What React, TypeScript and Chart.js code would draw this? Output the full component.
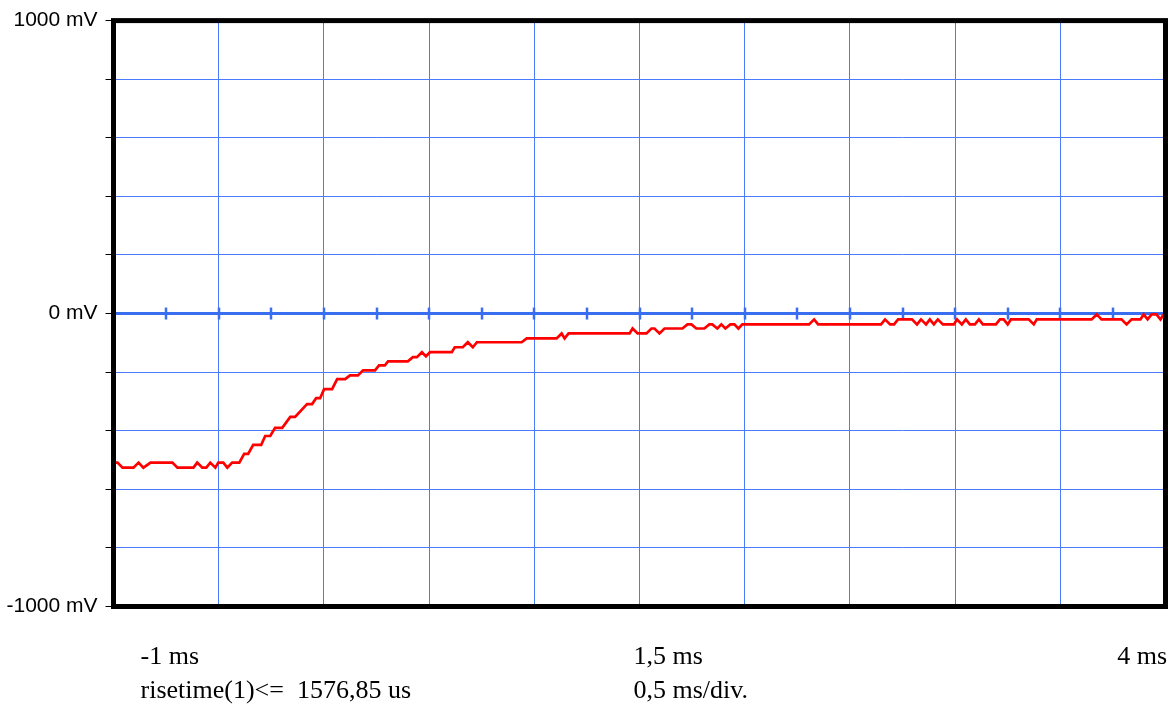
import { useEffect, useRef } from 'react';
import { Chart, registerables } from 'chart.js';

Chart.register(...registerables);

const timeMs = [
  -1.0, -0.981, -0.957, -0.905, -0.881, -0.858, -0.824, -0.72, -0.696, -0.62,
  -0.602, -0.578, -0.559, -0.54, -0.516, -0.502, -0.478, -0.459, -0.436, -0.402,
  -0.379, -0.36, -0.336, -0.298, -0.279, -0.255, -0.232, -0.198, -0.16, -0.137,
  -0.08, -0.056, -0.037, -0.018, 0.001, 0.039, 0.063, 0.101, 0.124, 0.162,
  0.186, 0.243, 0.262, 0.29, 0.305, 0.399, 0.423, 0.442, 0.466, 0.485,
  0.504, 0.608, 0.622, 0.66, 0.684, 0.708, 0.727, 0.94, 0.964, 1.106,
  1.13, 1.144, 1.163, 1.453, 1.467, 1.491, 1.533, 1.557, 1.571, 1.595,
  1.619, 1.704, 1.728, 1.747, 1.77, 1.808, 1.832, 1.846, 1.87, 1.889,
  1.908, 1.932, 1.951, 1.97, 1.989, 2.306, 2.33, 2.349, 2.648, 2.667,
  2.691, 2.71, 2.729, 2.795, 2.819, 2.838, 2.862, 2.88, 2.899, 2.918,
  2.942, 2.994, 3.009, 3.032, 3.051, 3.07, 3.094, 3.113, 3.132, 3.194,
  3.213, 3.231, 3.25, 3.265, 3.35, 3.374, 3.388, 3.649, 3.673, 3.696,
  3.791, 3.815, 3.839, 3.881, 3.896, 3.915, 3.934, 3.957, 3.976, 3.991,
];

const voltageMv = [
  -509, -509, -526, -526, -509, -526, -509, -509, -526, -526,
  -509, -526, -526, -509, -526, -509, -509, -526, -509, -509,
  -479, -479, -448, -448, -418, -418, -390, -390, -353, -353,
  -309, -309, -289, -289, -258, -258, -224, -224, -211, -211,
  -194, -194, -177, -177, -163, -163, -149, -149, -132, -146,
  -132, -132, -115, -115, -98, -115, -98, -98, -85, -85,
  -68, -85, -68, -68, -51, -68, -68, -51, -51, -68,
  -51, -51, -37, -37, -51, -51, -37, -37, -51, -37,
  -51, -37, -37, -51, -37, -37, -20, -37, -37, -20,
  -37, -37, -20, -20, -37, -20, -37, -20, -37, -20,
  -37, -37, -20, -37, -20, -37, -37, -20, -37, -37,
  -20, -20, -37, -20, -20, -37, -20, -20, -3, -20,
  -20, -37, -20, -20, -3, -20, -3, -3, -20, -3,
];

// Axis settings
const xRangeMs = [-1, 4];
const xDivisionMs = 0.5;
const zeroLineTickMs = 0.25;
const yRangeMv = [-1000, 1000];
const yDivisionMv = 200;
const yLabeledTicks = [-1000, 0, 1000];

// Footer annotations
const footerTopLine = ['-1 ms', '1,5 ms', '4 ms'];
const footerBottomLine = ['risetime(1)<=  1576,85 us', '0,5 ms/div.'];

const GRID_BLUE = '#4a7bff';
const ZERO_BLUE = '#3a6ef0';
const TRACE_RED = '#ff0000';
const SERIF = "'Liberation Serif', 'Times New Roman', serif";
const SANS = "'Liberation Sans', Arial, sans-serif";

const scopeDecor = {
  id: 'scopeDecor',
  beforeDatasetsDraw(chart: any) {
    const { ctx, chartArea, scales } = chart;
    const x = scales.x;
    const y = scales.y;
    const y0 = y.getPixelForValue(0);
    ctx.save();
    ctx.strokeStyle = ZERO_BLUE;
    ctx.lineWidth = 3;
    ctx.beginPath();
    ctx.moveTo(chartArea.left, y0);
    ctx.lineTo(chartArea.right, y0);
    ctx.stroke();
    ctx.lineWidth = 2.5;
    const n = Math.round((xRangeMs[1] - xRangeMs[0]) / zeroLineTickMs);
    for (let i = 0; i <= n; i++) {
      const px = Math.round(x.getPixelForValue(xRangeMs[0] + i * zeroLineTickMs));
      ctx.beginPath();
      ctx.moveTo(px, y0 - 6);
      ctx.lineTo(px, y0 + 6);
      ctx.stroke();
    }
    ctx.restore();
  },
  afterDraw(chart: any) {
    const { ctx, chartArea } = chart;
    const { left, top, right, bottom } = chartArea;
    ctx.save();
    ctx.strokeStyle = '#000';
    ctx.lineWidth = 5;
    ctx.strokeRect(left, top, right - left, bottom - top);

    ctx.fillStyle = '#000';
    ctx.font = `26px ${SERIF}`;
    ctx.textBaseline = 'alphabetic';
    const line1 = bottom + 57;
    const line2 = bottom + 91;
    ctx.textAlign = 'left';
    ctx.fillText(footerTopLine[0], left + 27, line1);
    ctx.fillText(footerTopLine[1], left + 520, line1);
    ctx.textAlign = 'right';
    ctx.fillText(footerTopLine[2], right + 1.5, line1);
    ctx.textAlign = 'left';
    ctx.fillText(footerBottomLine[0], left + 27, line2);
    ctx.fillText(footerBottomLine[1], left + 520, line2);
    ctx.restore();
  },
};

export default function App() {
  const canvasRef = useRef<HTMLCanvasElement | null>(null);

  useEffect(() => {
    const canvas = canvasRef.current;
    if (!canvas) return;
    const points = timeMs.map((t, i) => ({ x: t, y: voltageMv[i] }));
    const chart = new Chart(canvas, {
      type: 'line',
      data: {
        datasets: [
          {
            data: points,
            borderColor: TRACE_RED,
            borderWidth: 2.7,
            pointRadius: 0,
            tension: 0,
            fill: false,
          },
        ],
      },
      options: {
        animation: false,
        responsive: false,
        devicePixelRatio: 1,
        parsing: false as any,
        layout: { padding: { left: 0, right: 8.5, top: 17.5, bottom: 99.5 } },
        plugins: {
          legend: { display: false },
          tooltip: { enabled: false },
          title: { display: false },
        },
        scales: {
          x: {
            type: 'linear',
            min: xRangeMs[0],
            max: xRangeMs[1],
            ticks: { display: false, stepSize: xDivisionMs },
            grid: { color: GRID_BLUE, lineWidth: 1, drawTicks: false },
            border: { display: false },
            afterFit: (scale: any) => {
              scale.height = 0;
            },
          },
          y: {
            type: 'linear',
            min: yRangeMv[0],
            max: yRangeMv[1],
            ticks: {
              stepSize: yDivisionMv,
              padding: 8,
              color: '#000',
              font: { family: SANS, size: 21 },
              callback: (v: any) => (yLabeledTicks.includes(Number(v)) ? `${v} mV` : ''),
            },
            grid: {
              color: GRID_BLUE,
              lineWidth: 1,
              drawTicks: true,
              tickLength: 8,
              tickColor: '#000',
              tickWidth: 1,
            },
            border: { display: false },
            afterFit: (scale: any) => {
              scale.width = 113.5;
            },
          },
        },
      },
      plugins: [scopeDecor],
    });
    return () => chart.destroy();
  }, []);

  return (
    <div style={{ position: 'absolute', left: 0, top: 0, width: 1174, height: 706, background: '#fff' }}>
      <canvas ref={canvasRef} width={1174} height={706} style={{ display: 'block' }} />
    </div>
  );
}
